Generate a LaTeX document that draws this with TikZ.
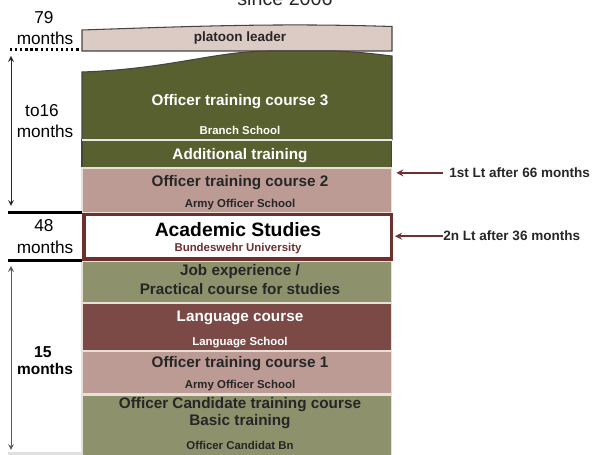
\documentclass[tikz,border=0pt]{standalone}
\usepackage{fontspec}
\setmainfont{Liberation Sans}
\usepackage{tikz}

\definecolor{olivedark}{HTML}{59602F}
\definecolor{olivegray}{HTML}{8D926D}
\definecolor{rosegray}{HTML}{BC9B95}
\definecolor{platoonpink}{HTML}{DCCBC4}
\definecolor{langred}{HTML}{7C4A46}
\definecolor{unired}{HTML}{6E2F2F}
\definecolor{edgegray}{HTML}{444444}
\definecolor{sepline}{HTML}{E6E0D6}
\definecolor{textdark}{HTML}{262626}

\begin{document}
\begin{tikzpicture}[x=0.02cm, y=-0.02cm]

		% Define styles
		\tikzstyle{band} = [
		rectangle, anchor=north west, minimum width=6.2cm,
		inner sep=0pt, outer sep=0pt, draw=sepline, line width=0.6pt]
		\tikzstyle{head} = [
		anchor=base, inner sep=0pt, text=textdark,
		font=\bfseries\fontsize{8.7}{10}\selectfont]
		\tikzstyle{sub} = [
		anchor=base, inner sep=0pt, text=textdark,
		font=\bfseries\fontsize{6.5}{8}\selectfont]
		\tikzstyle{side} = [
		anchor=base, inner sep=0pt, font=\fontsize{9.8}{11}\selectfont]
		\tikzstyle{rank} = [
		anchor=base west, inner sep=0pt, text=textdark,
		font=\bfseries\fontsize{7.7}{9}\selectfont]
		\tikzstyle{arrow} = [->, >=stealth]
		\tikzstyle{span} = [<->, >=stealth, line width=0.5pt]

		\useasboundingbox (0,0) rectangle (593,455);

		% Bands
		\filldraw [fill=platoonpink, draw=edgegray, line width=0.6pt]
		(82,51) -- (82,30) .. controls (200,26) and (280,23) .. (392,26.5)
		-- (392,51) -- cycle;
		\filldraw [fill=olivedark, draw=edgegray, line width=0.6pt]
		(82,139.5) -- (82,72) .. controls (170,69) and (215,51) .. (270,51)
		-- (335,51) .. controls (360,52) and (375,54) .. (392,56)
		-- (392,139.5) -- cycle;

		\node (add) [band, fill=olivedark, draw=edgegray, minimum height=0.56cm] at (82,140) {};
		\node (ot2) [band, fill=rosegray, minimum height=0.9cm] at (82,168) {};
		\node (job) [band, fill=olivegray, minimum height=0.84cm] at (82,261) {};
		\node (lang) [band, fill=langred, minimum height=0.96cm] at (82,303) {};
		\node (ot1) [band, fill=rosegray, minimum height=0.86cm] at (82,351) {};
		\node (cand) [band, fill=olivegray, minimum height=1.3cm] at (82,395) {};
		\node (uni) [band, fill=white, draw=unired, line width=1.9pt,
		minimum width=6.15cm, minimum height=0.89cm] at (84,214.5) {};
		\draw [draw=white!80!olivegray, line width=1pt] (add.north west) -- (add.north east);

		% Texts in the bands
		\node (since) [side, text=textdark, font=\fontsize{11.2}{13}\selectfont] at (285,6) {since 2006};
		\node (platoon) [head, font=\bfseries\fontsize{7.7}{9}\selectfont] at (240,41.5) {platoon leader};
		\node (ot3t) [head, text=white] at (240,106) {Officer training course 3};
		\node (ot3s) [sub, text=white] at (240,135) {Branch School};
		\node (addt) [head, text=white] at (240,160) {Additional training};
		\node (ot2t) [head] at (240,187) {Officer training course 2};
		\node (ot2s) [sub] at (240,207.5) {Army Officer School};
		\node (unit) [head, text=black, font=\bfseries\fontsize{11}{13}\selectfont] at (238,236.5) {Academic Studies};
		\node (unis) [sub, text=unired] at (238,251.5) {Bundeswehr University};
		\node (jobt) [head] at (240,275.5) {Job experience /};
		\node (jobs) [head] at (240,294.3) {Practical course for studies};
		\node (langt) [head, text=white] at (240,321.7) {Language course};
		\node (langs) [sub, text=white] at (240,345.7) {Language School};
		\node (ot1t) [head] at (240,367.3) {Officer training course 1};
		\node (ot1s) [sub] at (240,388.3) {Army Officer School};
		\node (candt) [head] at (240,409) {Officer Candidate training course};
		\node (cands) [head] at (240,425.7) {Basic training};
		\node (candb) [sub] at (240,450) {Officer Candidat Bn};

		% Left side
		\node (m79) [side] at (44,24) {79};
		\node (m79b) [side] at (45,45) {months};
		\node (m16) [side] at (42,116.7) {to16};
		\node (m16b) [side] at (45,137.7) {months};
		\node (m48) [side] at (44,231.7) {48};
		\node (m48b) [side] at (45,253.3) {months};
		\node (m15) [side, font=\bfseries\fontsize{9}{11}\selectfont] at (43,357.7) {15};
		\node (m15b) [side, font=\bfseries\fontsize{8.8}{11}\selectfont] at (45,375) {months};

		\draw [line width=1.4pt, dash pattern=on 1.3pt off 1.6pt] (10,49.5) -- (80,49.5);
		\draw [line width=1.7pt] (8,212.5) -- (82,212.5);
		\draw [line width=1.7pt] (8,260.5) -- (82,260.5);
		\draw [line width=1.2pt, black!12] (8,453.5) -- (82,453.5);

		\coordinate (s1a) at (11,56);
		\coordinate (s1b) at (11,206);
		\coordinate (s2a) at (11,266);
		\coordinate (s2b) at (11,450);
		\draw [span, black!85] (s1a) -- (s1b);
		\draw [span, black!65] (s2a) -- (s2b);

		% Right side
		\node (lt1) [rank] at (449,177.7) {1st Lt after 66 months};
		\node (lt2) [rank] at (443,241) {2n Lt after 36 months};

		% Arrows
		\draw [arrow, unired, line width=0.8pt, shorten >=2.5pt] ([xshift=-3.5pt]lt1.west) -- (ot2.east |- lt1.west);
		\draw [arrow, unired, line width=0.8pt, shorten >=2pt] (lt2.west) -- (uni.east |- lt2.west);
	\end{tikzpicture}
\end{document}
